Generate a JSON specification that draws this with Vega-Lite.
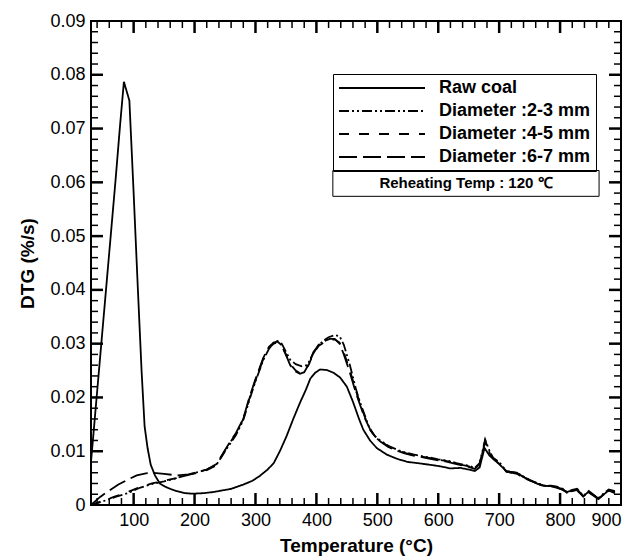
{
  "$schema": "https://vega.github.io/schema/vega-lite/v6.json",
  "width": 530,
  "height": 484,
  "autosize": {"type": "none"},
  "padding": {"left": 91, "top": 21, "right": 16, "bottom": 54},
  "config": {
    "view": {"stroke": "black", "strokeWidth": 2},
    "font": "Liberation Sans",
    "axis": {"grid": false, "domain": false, "ticks": false, "labelColor": "black", "titleColor": "black", "labelFontSize": 18, "titleFontSize": 19, "titleFontWeight": "bold", "labelFont": "Liberation Sans", "titleFont": "Liberation Sans"}
  },
  "datasets": {
    "curves": [
      {"T":30,"v":0.0080,"s":"Raw coal"},{"T":40,"v":0.021,"s":"Raw coal"},{"T":50,"v":0.034,"s":"Raw coal"},{"T":60,"v":0.047,"s":"Raw coal"},{"T":70,"v":0.060,"s":"Raw coal"},{"T":78,"v":0.071,"s":"Raw coal"},{"T":84,"v":0.0787,"s":"Raw coal"},{"T":93,"v":0.0752,"s":"Raw coal"},{"T":100,"v":0.058,"s":"Raw coal"},{"T":107,"v":0.040,"s":"Raw coal"},{"T":113,"v":0.025,"s":"Raw coal"},{"T":118,"v":0.0146,"s":"Raw coal"},{"T":123,"v":0.0105,"s":"Raw coal"},{"T":128,"v":0.0075,"s":"Raw coal"},{"T":135,"v":0.0055,"s":"Raw coal"},{"T":143,"v":0.0040,"s":"Raw coal"},{"T":150,"v":0.0035,"s":"Raw coal"},{"T":160,"v":0.0030,"s":"Raw coal"},{"T":170,"v":0.0026,"s":"Raw coal"},{"T":185,"v":0.0022,"s":"Raw coal"},{"T":197,"v":0.0021,"s":"Raw coal"},{"T":215,"v":0.0022,"s":"Raw coal"},{"T":230,"v":0.0024,"s":"Raw coal"},{"T":245,"v":0.0027,"s":"Raw coal"},{"T":260,"v":0.0030,"s":"Raw coal"},{"T":280,"v":0.0038,"s":"Raw coal"},{"T":295,"v":0.0045,"s":"Raw coal"},{"T":307,"v":0.0054,"s":"Raw coal"},{"T":320,"v":0.0066,"s":"Raw coal"},{"T":330,"v":0.0078,"s":"Raw coal"},{"T":340,"v":0.0100,"s":"Raw coal"},{"T":351,"v":0.0128,"s":"Raw coal"},{"T":362,"v":0.0160,"s":"Raw coal"},{"T":373,"v":0.0190,"s":"Raw coal"},{"T":383,"v":0.0215,"s":"Raw coal"},{"T":390,"v":0.0235,"s":"Raw coal"},{"T":398,"v":0.0246,"s":"Raw coal"},{"T":406,"v":0.0252,"s":"Raw coal"},{"T":417,"v":0.0251,"s":"Raw coal"},{"T":428,"v":0.0246,"s":"Raw coal"},{"T":439,"v":0.0237,"s":"Raw coal"},{"T":450,"v":0.0220,"s":"Raw coal"},{"T":460,"v":0.0192,"s":"Raw coal"},{"T":470,"v":0.0160,"s":"Raw coal"},{"T":477,"v":0.0140,"s":"Raw coal"},{"T":488,"v":0.0120,"s":"Raw coal"},{"T":499,"v":0.0106,"s":"Raw coal"},{"T":515,"v":0.0094,"s":"Raw coal"},{"T":532,"v":0.0086,"s":"Raw coal"},{"T":550,"v":0.0080,"s":"Raw coal"},{"T":565,"v":0.0078,"s":"Raw coal"},{"T":585,"v":0.0075,"s":"Raw coal"},{"T":603,"v":0.0072,"s":"Raw coal"},{"T":620,"v":0.0068,"s":"Raw coal"},{"T":636,"v":0.0069,"s":"Raw coal"},{"T":650,"v":0.0066,"s":"Raw coal"},{"T":660,"v":0.0063,"s":"Raw coal"},{"T":668,"v":0.0070,"s":"Raw coal"},{"T":676,"v":0.0106,"s":"Raw coal"},{"T":684,"v":0.0092,"s":"Raw coal"},{"T":690,"v":0.0086,"s":"Raw coal"},{"T":700,"v":0.0076,"s":"Raw coal"},{"T":712,"v":0.0063,"s":"Raw coal"},{"T":729,"v":0.0060,"s":"Raw coal"},{"T":740,"v":0.0052,"s":"Raw coal"},{"T":751,"v":0.0046,"s":"Raw coal"},{"T":762,"v":0.0040,"s":"Raw coal"},{"T":773,"v":0.0036,"s":"Raw coal"},{"T":785,"v":0.0035,"s":"Raw coal"},{"T":795,"v":0.0033,"s":"Raw coal"},{"T":805,"v":0.0028,"s":"Raw coal"},{"T":811,"v":0.0024,"s":"Raw coal"},{"T":820,"v":0.0027,"s":"Raw coal"},{"T":827,"v":0.0028,"s":"Raw coal"},{"T":838,"v":0.0016,"s":"Raw coal"},{"T":846,"v":0.0024,"s":"Raw coal"},{"T":855,"v":0.0018,"s":"Raw coal"},{"T":863,"v":0.0012,"s":"Raw coal"},{"T":872,"v":0.0020,"s":"Raw coal"},{"T":880,"v":0.0027,"s":"Raw coal"},{"T":890,"v":0.0022,"s":"Raw coal"},

      {"T":30,"v":0.0000,"s":"Diameter :2-3 mm"},{"T":50,"v":0.0007,"s":"Diameter :2-3 mm"},{"T":70,"v":0.0015,"s":"Diameter :2-3 mm"},{"T":90,"v":0.0022,"s":"Diameter :2-3 mm"},{"T":110,"v":0.0032,"s":"Diameter :2-3 mm"},{"T":130,"v":0.0039,"s":"Diameter :2-3 mm"},{"T":150,"v":0.0044,"s":"Diameter :2-3 mm"},{"T":170,"v":0.0050,"s":"Diameter :2-3 mm"},{"T":190,"v":0.0056,"s":"Diameter :2-3 mm"},{"T":205,"v":0.0061,"s":"Diameter :2-3 mm"},{"T":220,"v":0.0066,"s":"Diameter :2-3 mm"},{"T":236,"v":0.0075,"s":"Diameter :2-3 mm"},{"T":253,"v":0.0105,"s":"Diameter :2-3 mm"},{"T":268,"v":0.0130,"s":"Diameter :2-3 mm"},{"T":280,"v":0.0158,"s":"Diameter :2-3 mm"},{"T":290,"v":0.0195,"s":"Diameter :2-3 mm"},{"T":300,"v":0.0230,"s":"Diameter :2-3 mm"},{"T":313,"v":0.0270,"s":"Diameter :2-3 mm"},{"T":322,"v":0.0290,"s":"Diameter :2-3 mm"},{"T":330,"v":0.0302,"s":"Diameter :2-3 mm"},{"T":336,"v":0.0305,"s":"Diameter :2-3 mm"},{"T":343,"v":0.0300,"s":"Diameter :2-3 mm"},{"T":350,"v":0.0285,"s":"Diameter :2-3 mm"},{"T":357,"v":0.0270,"s":"Diameter :2-3 mm"},{"T":366,"v":0.0262,"s":"Diameter :2-3 mm"},{"T":376,"v":0.0258,"s":"Diameter :2-3 mm"},{"T":385,"v":0.0260,"s":"Diameter :2-3 mm"},{"T":393,"v":0.0278,"s":"Diameter :2-3 mm"},{"T":402,"v":0.0295,"s":"Diameter :2-3 mm"},{"T":411,"v":0.0305,"s":"Diameter :2-3 mm"},{"T":420,"v":0.0312,"s":"Diameter :2-3 mm"},{"T":430,"v":0.0316,"s":"Diameter :2-3 mm"},{"T":438,"v":0.0314,"s":"Diameter :2-3 mm"},{"T":445,"v":0.0298,"s":"Diameter :2-3 mm"},{"T":455,"v":0.0260,"s":"Diameter :2-3 mm"},{"T":465,"v":0.0215,"s":"Diameter :2-3 mm"},{"T":472,"v":0.0190,"s":"Diameter :2-3 mm"},{"T":480,"v":0.0165,"s":"Diameter :2-3 mm"},{"T":488,"v":0.0140,"s":"Diameter :2-3 mm"},{"T":496,"v":0.0128,"s":"Diameter :2-3 mm"},{"T":505,"v":0.0120,"s":"Diameter :2-3 mm"},{"T":518,"v":0.0110,"s":"Diameter :2-3 mm"},{"T":532,"v":0.0103,"s":"Diameter :2-3 mm"},{"T":545,"v":0.0098,"s":"Diameter :2-3 mm"},{"T":559,"v":0.0094,"s":"Diameter :2-3 mm"},{"T":573,"v":0.0091,"s":"Diameter :2-3 mm"},{"T":587,"v":0.0088,"s":"Diameter :2-3 mm"},{"T":600,"v":0.0085,"s":"Diameter :2-3 mm"},{"T":612,"v":0.0083,"s":"Diameter :2-3 mm"},{"T":620,"v":0.0081,"s":"Diameter :2-3 mm"},{"T":630,"v":0.0078,"s":"Diameter :2-3 mm"},{"T":641,"v":0.0075,"s":"Diameter :2-3 mm"},{"T":650,"v":0.0073,"s":"Diameter :2-3 mm"},{"T":660,"v":0.0069,"s":"Diameter :2-3 mm"},{"T":668,"v":0.0078,"s":"Diameter :2-3 mm"},{"T":677,"v":0.0122,"s":"Diameter :2-3 mm"},{"T":685,"v":0.0098,"s":"Diameter :2-3 mm"},{"T":690,"v":0.0088,"s":"Diameter :2-3 mm"},{"T":700,"v":0.0080,"s":"Diameter :2-3 mm"},{"T":712,"v":0.0063,"s":"Diameter :2-3 mm"},{"T":720,"v":0.0061,"s":"Diameter :2-3 mm"},{"T":729,"v":0.0060,"s":"Diameter :2-3 mm"},{"T":740,"v":0.0053,"s":"Diameter :2-3 mm"},{"T":751,"v":0.0046,"s":"Diameter :2-3 mm"},{"T":762,"v":0.0041,"s":"Diameter :2-3 mm"},{"T":773,"v":0.0036,"s":"Diameter :2-3 mm"},{"T":785,"v":0.0036,"s":"Diameter :2-3 mm"},{"T":795,"v":0.0034,"s":"Diameter :2-3 mm"},{"T":805,"v":0.0030,"s":"Diameter :2-3 mm"},{"T":811,"v":0.0024,"s":"Diameter :2-3 mm"},{"T":820,"v":0.0028,"s":"Diameter :2-3 mm"},{"T":828,"v":0.0030,"s":"Diameter :2-3 mm"},{"T":838,"v":0.0017,"s":"Diameter :2-3 mm"},{"T":847,"v":0.0026,"s":"Diameter :2-3 mm"},{"T":855,"v":0.0019,"s":"Diameter :2-3 mm"},{"T":863,"v":0.0013,"s":"Diameter :2-3 mm"},{"T":872,"v":0.0022,"s":"Diameter :2-3 mm"},{"T":880,"v":0.0029,"s":"Diameter :2-3 mm"},{"T":890,"v":0.0026,"s":"Diameter :2-3 mm"},

      {"T":30,"v":0.0000,"s":"Diameter :4-5 mm"},{"T":50,"v":0.0008,"s":"Diameter :4-5 mm"},{"T":70,"v":0.0016,"s":"Diameter :4-5 mm"},{"T":90,"v":0.0024,"s":"Diameter :4-5 mm"},{"T":110,"v":0.0033,"s":"Diameter :4-5 mm"},{"T":130,"v":0.0040,"s":"Diameter :4-5 mm"},{"T":150,"v":0.0045,"s":"Diameter :4-5 mm"},{"T":170,"v":0.0050,"s":"Diameter :4-5 mm"},{"T":190,"v":0.0056,"s":"Diameter :4-5 mm"},{"T":205,"v":0.0060,"s":"Diameter :4-5 mm"},{"T":220,"v":0.0065,"s":"Diameter :4-5 mm"},{"T":236,"v":0.0074,"s":"Diameter :4-5 mm"},{"T":253,"v":0.0107,"s":"Diameter :4-5 mm"},{"T":268,"v":0.0133,"s":"Diameter :4-5 mm"},{"T":280,"v":0.0160,"s":"Diameter :4-5 mm"},{"T":290,"v":0.0198,"s":"Diameter :4-5 mm"},{"T":300,"v":0.0232,"s":"Diameter :4-5 mm"},{"T":313,"v":0.0272,"s":"Diameter :4-5 mm"},{"T":322,"v":0.0292,"s":"Diameter :4-5 mm"},{"T":330,"v":0.0300,"s":"Diameter :4-5 mm"},{"T":336,"v":0.0302,"s":"Diameter :4-5 mm"},{"T":343,"v":0.0296,"s":"Diameter :4-5 mm"},{"T":350,"v":0.0280,"s":"Diameter :4-5 mm"},{"T":357,"v":0.0262,"s":"Diameter :4-5 mm"},{"T":366,"v":0.0250,"s":"Diameter :4-5 mm"},{"T":373,"v":0.0245,"s":"Diameter :4-5 mm"},{"T":380,"v":0.0248,"s":"Diameter :4-5 mm"},{"T":388,"v":0.0262,"s":"Diameter :4-5 mm"},{"T":395,"v":0.0282,"s":"Diameter :4-5 mm"},{"T":404,"v":0.0296,"s":"Diameter :4-5 mm"},{"T":413,"v":0.0303,"s":"Diameter :4-5 mm"},{"T":422,"v":0.0307,"s":"Diameter :4-5 mm"},{"T":430,"v":0.0308,"s":"Diameter :4-5 mm"},{"T":438,"v":0.0302,"s":"Diameter :4-5 mm"},{"T":445,"v":0.0284,"s":"Diameter :4-5 mm"},{"T":455,"v":0.0250,"s":"Diameter :4-5 mm"},{"T":465,"v":0.0212,"s":"Diameter :4-5 mm"},{"T":472,"v":0.0188,"s":"Diameter :4-5 mm"},{"T":480,"v":0.0162,"s":"Diameter :4-5 mm"},{"T":488,"v":0.0142,"s":"Diameter :4-5 mm"},{"T":496,"v":0.0128,"s":"Diameter :4-5 mm"},{"T":505,"v":0.0119,"s":"Diameter :4-5 mm"},{"T":518,"v":0.0109,"s":"Diameter :4-5 mm"},{"T":532,"v":0.0102,"s":"Diameter :4-5 mm"},{"T":545,"v":0.0097,"s":"Diameter :4-5 mm"},{"T":559,"v":0.0093,"s":"Diameter :4-5 mm"},{"T":573,"v":0.0090,"s":"Diameter :4-5 mm"},{"T":587,"v":0.0087,"s":"Diameter :4-5 mm"},{"T":600,"v":0.0084,"s":"Diameter :4-5 mm"},{"T":612,"v":0.0082,"s":"Diameter :4-5 mm"},{"T":620,"v":0.0080,"s":"Diameter :4-5 mm"},{"T":630,"v":0.0077,"s":"Diameter :4-5 mm"},{"T":641,"v":0.0074,"s":"Diameter :4-5 mm"},{"T":650,"v":0.0072,"s":"Diameter :4-5 mm"},{"T":660,"v":0.0068,"s":"Diameter :4-5 mm"},{"T":668,"v":0.0077,"s":"Diameter :4-5 mm"},{"T":677,"v":0.0120,"s":"Diameter :4-5 mm"},{"T":685,"v":0.0096,"s":"Diameter :4-5 mm"},{"T":690,"v":0.0087,"s":"Diameter :4-5 mm"},{"T":700,"v":0.0078,"s":"Diameter :4-5 mm"},{"T":712,"v":0.0062,"s":"Diameter :4-5 mm"},{"T":720,"v":0.0060,"s":"Diameter :4-5 mm"},{"T":729,"v":0.0059,"s":"Diameter :4-5 mm"},{"T":740,"v":0.0052,"s":"Diameter :4-5 mm"},{"T":751,"v":0.0045,"s":"Diameter :4-5 mm"},{"T":762,"v":0.0040,"s":"Diameter :4-5 mm"},{"T":773,"v":0.0036,"s":"Diameter :4-5 mm"},{"T":785,"v":0.0035,"s":"Diameter :4-5 mm"},{"T":795,"v":0.0033,"s":"Diameter :4-5 mm"},{"T":805,"v":0.0029,"s":"Diameter :4-5 mm"},{"T":811,"v":0.0023,"s":"Diameter :4-5 mm"},{"T":820,"v":0.0027,"s":"Diameter :4-5 mm"},{"T":828,"v":0.0029,"s":"Diameter :4-5 mm"},{"T":838,"v":0.0016,"s":"Diameter :4-5 mm"},{"T":847,"v":0.0025,"s":"Diameter :4-5 mm"},{"T":855,"v":0.0018,"s":"Diameter :4-5 mm"},{"T":863,"v":0.0012,"s":"Diameter :4-5 mm"},{"T":872,"v":0.0021,"s":"Diameter :4-5 mm"},{"T":880,"v":0.0028,"s":"Diameter :4-5 mm"},{"T":890,"v":0.0024,"s":"Diameter :4-5 mm"},

      {"T":30,"v":0.0000,"s":"Diameter :6-7 mm"},{"T":45,"v":0.0015,"s":"Diameter :6-7 mm"},{"T":60,"v":0.0027,"s":"Diameter :6-7 mm"},{"T":75,"v":0.0038,"s":"Diameter :6-7 mm"},{"T":90,"v":0.0047,"s":"Diameter :6-7 mm"},{"T":105,"v":0.0055,"s":"Diameter :6-7 mm"},{"T":120,"v":0.0059,"s":"Diameter :6-7 mm"},{"T":132,"v":0.0060,"s":"Diameter :6-7 mm"},{"T":150,"v":0.0058,"s":"Diameter :6-7 mm"},{"T":171,"v":0.0055,"s":"Diameter :6-7 mm"},{"T":190,"v":0.0057,"s":"Diameter :6-7 mm"},{"T":205,"v":0.0061,"s":"Diameter :6-7 mm"},{"T":220,"v":0.0066,"s":"Diameter :6-7 mm"},{"T":236,"v":0.0076,"s":"Diameter :6-7 mm"},{"T":253,"v":0.0108,"s":"Diameter :6-7 mm"},{"T":268,"v":0.0134,"s":"Diameter :6-7 mm"},{"T":280,"v":0.0161,"s":"Diameter :6-7 mm"},{"T":290,"v":0.0200,"s":"Diameter :6-7 mm"},{"T":300,"v":0.0234,"s":"Diameter :6-7 mm"},{"T":313,"v":0.0274,"s":"Diameter :6-7 mm"},{"T":322,"v":0.0294,"s":"Diameter :6-7 mm"},{"T":330,"v":0.0302,"s":"Diameter :6-7 mm"},{"T":336,"v":0.0304,"s":"Diameter :6-7 mm"},{"T":343,"v":0.0297,"s":"Diameter :6-7 mm"},{"T":350,"v":0.0279,"s":"Diameter :6-7 mm"},{"T":357,"v":0.0260,"s":"Diameter :6-7 mm"},{"T":366,"v":0.0248,"s":"Diameter :6-7 mm"},{"T":373,"v":0.0244,"s":"Diameter :6-7 mm"},{"T":380,"v":0.0247,"s":"Diameter :6-7 mm"},{"T":388,"v":0.0263,"s":"Diameter :6-7 mm"},{"T":395,"v":0.0284,"s":"Diameter :6-7 mm"},{"T":404,"v":0.0298,"s":"Diameter :6-7 mm"},{"T":413,"v":0.0305,"s":"Diameter :6-7 mm"},{"T":422,"v":0.0309,"s":"Diameter :6-7 mm"},{"T":430,"v":0.0309,"s":"Diameter :6-7 mm"},{"T":438,"v":0.0300,"s":"Diameter :6-7 mm"},{"T":445,"v":0.0280,"s":"Diameter :6-7 mm"},{"T":455,"v":0.0246,"s":"Diameter :6-7 mm"},{"T":465,"v":0.0208,"s":"Diameter :6-7 mm"},{"T":472,"v":0.0185,"s":"Diameter :6-7 mm"},{"T":480,"v":0.0160,"s":"Diameter :6-7 mm"},{"T":488,"v":0.0141,"s":"Diameter :6-7 mm"},{"T":496,"v":0.0127,"s":"Diameter :6-7 mm"},{"T":505,"v":0.0118,"s":"Diameter :6-7 mm"},{"T":518,"v":0.0108,"s":"Diameter :6-7 mm"},{"T":532,"v":0.0101,"s":"Diameter :6-7 mm"},{"T":545,"v":0.0096,"s":"Diameter :6-7 mm"},{"T":559,"v":0.0092,"s":"Diameter :6-7 mm"},{"T":573,"v":0.0089,"s":"Diameter :6-7 mm"},{"T":587,"v":0.0086,"s":"Diameter :6-7 mm"},{"T":600,"v":0.0083,"s":"Diameter :6-7 mm"},{"T":612,"v":0.0081,"s":"Diameter :6-7 mm"},{"T":620,"v":0.0079,"s":"Diameter :6-7 mm"},{"T":630,"v":0.0076,"s":"Diameter :6-7 mm"},{"T":641,"v":0.0073,"s":"Diameter :6-7 mm"},{"T":650,"v":0.0071,"s":"Diameter :6-7 mm"},{"T":660,"v":0.0067,"s":"Diameter :6-7 mm"},{"T":668,"v":0.0076,"s":"Diameter :6-7 mm"},{"T":677,"v":0.0118,"s":"Diameter :6-7 mm"},{"T":685,"v":0.0095,"s":"Diameter :6-7 mm"},{"T":690,"v":0.0086,"s":"Diameter :6-7 mm"},{"T":700,"v":0.0077,"s":"Diameter :6-7 mm"},{"T":712,"v":0.0062,"s":"Diameter :6-7 mm"},{"T":720,"v":0.0060,"s":"Diameter :6-7 mm"},{"T":729,"v":0.0058,"s":"Diameter :6-7 mm"},{"T":740,"v":0.0051,"s":"Diameter :6-7 mm"},{"T":751,"v":0.0045,"s":"Diameter :6-7 mm"},{"T":762,"v":0.0040,"s":"Diameter :6-7 mm"},{"T":773,"v":0.0035,"s":"Diameter :6-7 mm"},{"T":785,"v":0.0035,"s":"Diameter :6-7 mm"},{"T":795,"v":0.0032,"s":"Diameter :6-7 mm"},{"T":805,"v":0.0028,"s":"Diameter :6-7 mm"},{"T":811,"v":0.0023,"s":"Diameter :6-7 mm"},{"T":820,"v":0.0026,"s":"Diameter :6-7 mm"},{"T":828,"v":0.0028,"s":"Diameter :6-7 mm"},{"T":838,"v":0.0016,"s":"Diameter :6-7 mm"},{"T":847,"v":0.0024,"s":"Diameter :6-7 mm"},{"T":855,"v":0.0017,"s":"Diameter :6-7 mm"},{"T":863,"v":0.0011,"s":"Diameter :6-7 mm"},{"T":872,"v":0.0020,"s":"Diameter :6-7 mm"},{"T":880,"v":0.0027,"s":"Diameter :6-7 mm"},{"T":890,"v":0.0023,"s":"Diameter :6-7 mm"}
    ],
    "xMajor": [{"T":100},{"T":200},{"T":300},{"T":400},{"T":500},{"T":600},{"T":700},{"T":800}],
    "xMinor": [{"T":40},{"T":60},{"T":80},{"T":120},{"T":140},{"T":160},{"T":180},{"T":220},{"T":240},{"T":260},{"T":280},{"T":320},{"T":340},{"T":360},{"T":380},{"T":420},{"T":440},{"T":460},{"T":480},{"T":520},{"T":540},{"T":560},{"T":580},{"T":620},{"T":640},{"T":660},{"T":680},{"T":720},{"T":740},{"T":760},{"T":780},{"T":820},{"T":840},{"T":860},{"T":880}],
    "yMajor": [{"v":0.01},{"v":0.02},{"v":0.03},{"v":0.04},{"v":0.05},{"v":0.06},{"v":0.07},{"v":0.08}],
    "yMinor": [{"v":0.002},{"v":0.004},{"v":0.006},{"v":0.008},{"v":0.012},{"v":0.014},{"v":0.016},{"v":0.018},{"v":0.022},{"v":0.024},{"v":0.026},{"v":0.028},{"v":0.032},{"v":0.034},{"v":0.036},{"v":0.038},{"v":0.042},{"v":0.044},{"v":0.046},{"v":0.048},{"v":0.052},{"v":0.054},{"v":0.056},{"v":0.058},{"v":0.062},{"v":0.064},{"v":0.066},{"v":0.068},{"v":0.072},{"v":0.074},{"v":0.076},{"v":0.078},{"v":0.082},{"v":0.084},{"v":0.086},{"v":0.088}],
    "note": [{"label": "Reheating Temp : 120 ℃"}]
  },
  "encoding": {
    "x": {"type": "quantitative", "scale": {"domain": [30, 900], "nice": false, "zero": false},
      "axis": {"orient": "bottom", "values": [100,200,300,400,500,600,700,800,900], "labelPadding": 6, "title": "Temperature (°C)", "titlePadding": 7}},
    "y": {"type": "quantitative", "scale": {"domain": [0, 0.09], "nice": false, "zero": false},
      "axis": {"orient": "left", "values": [0,0.01,0.02,0.03,0.04,0.05,0.06,0.07,0.08,0.09], "labelPadding": 6, "labelExpr": "datum.value == 0 ? '0' : format(datum.value, '.2f')", "title": "DTG (%/s)", "titlePadding": 12}}
  },
  "layer": [
    {
      "data": {"name": "curves"},
      "mark": {"type": "line", "color": "black", "strokeWidth": 1.8, "clip": true},
      "encoding": {
        "x": {"field": "T", "type": "quantitative"},
        "y": {"field": "v", "type": "quantitative"},
        "strokeDash": {"field": "s", "type": "nominal",
          "scale": {"domain": ["Raw coal", "Diameter :2-3 mm", "Diameter :4-5 mm", "Diameter :6-7 mm"], "range": [[1, 0], [10, 3, 2, 3, 2, 3], [10, 10], [18, 6]]},
          "legend": {"orient": "none", "legendX": 242, "legendY": 53, "title": null, "strokeColor": "black", "padding": 5, "labelFontSize": 18, "labelFontWeight": "bold", "labelFont": "Liberation Sans", "labelColor": "black", "symbolType": "M-8.6,0H8.6", "symbolSize": 100, "symbolOffset": 35, "symbolStrokeWidth": 2, "symbolStrokeColor": "black", "symbolFillColor": "transparent", "labelOffset": 48, "rowPadding": 5}}
      }
    },
    {
      "data": {"name": "xMajor"},
      "mark": {"type": "rule", "color": "black", "strokeWidth": 2.5},
      "encoding": {"x": {"field": "T", "type": "quantitative"}, "y": {"datum": 0}, "y2": {"datum": 0.00223}}
    },
    {
      "data": {"name": "xMajor"},
      "mark": {"type": "rule", "color": "black", "strokeWidth": 2.5},
      "encoding": {"x": {"field": "T", "type": "quantitative"}, "y": {"datum": 0.09}, "y2": {"datum": 0.08777}}
    },
    {
      "data": {"name": "xMinor"},
      "mark": {"type": "rule", "color": "black", "strokeWidth": 1.5},
      "encoding": {"x": {"field": "T", "type": "quantitative"}, "y": {"datum": 0}, "y2": {"datum": 0.0013}}
    },
    {
      "data": {"name": "xMinor"},
      "mark": {"type": "rule", "color": "black", "strokeWidth": 1.5},
      "encoding": {"x": {"field": "T", "type": "quantitative"}, "y": {"datum": 0.09}, "y2": {"datum": 0.0887}}
    },
    {
      "data": {"name": "yMajor"},
      "mark": {"type": "rule", "color": "black", "strokeWidth": 2.5},
      "encoding": {"y": {"field": "v", "type": "quantitative"}, "x": {"datum": 30}, "x2": {"datum": 49.7}}
    },
    {
      "data": {"name": "yMajor"},
      "mark": {"type": "rule", "color": "black", "strokeWidth": 2.5},
      "encoding": {"y": {"field": "v", "type": "quantitative"}, "x": {"datum": 900}, "x2": {"datum": 880.3}}
    },
    {
      "data": {"name": "yMinor"},
      "mark": {"type": "rule", "color": "black", "strokeWidth": 1.5},
      "encoding": {"y": {"field": "v", "type": "quantitative"}, "x": {"datum": 30}, "x2": {"datum": 41.5}}
    },
    {
      "data": {"name": "yMinor"},
      "mark": {"type": "rule", "color": "black", "strokeWidth": 1.5},
      "encoding": {"y": {"field": "v", "type": "quantitative"}, "x": {"datum": 900}, "x2": {"datum": 888.5}}
    },
    {
      "data": {"name": "note"},
      "mark": {"type": "rect", "fill": "white", "stroke": "black", "strokeWidth": 1},
      "encoding": {"x": {"datum": 427}, "x2": {"datum": 864}, "y": {"datum": 0.0622}, "y2": {"datum": 0.0574}}
    },
    {
      "data": {"name": "note"},
      "mark": {"type": "text", "font": "Liberation Sans", "fontSize": 15, "fontWeight": "bold", "color": "black", "align": "center", "baseline": "middle"},
      "encoding": {"x": {"datum": 645.5}, "y": {"datum": 0.0598}, "text": {"field": "label"}}
    }
  ]
}
